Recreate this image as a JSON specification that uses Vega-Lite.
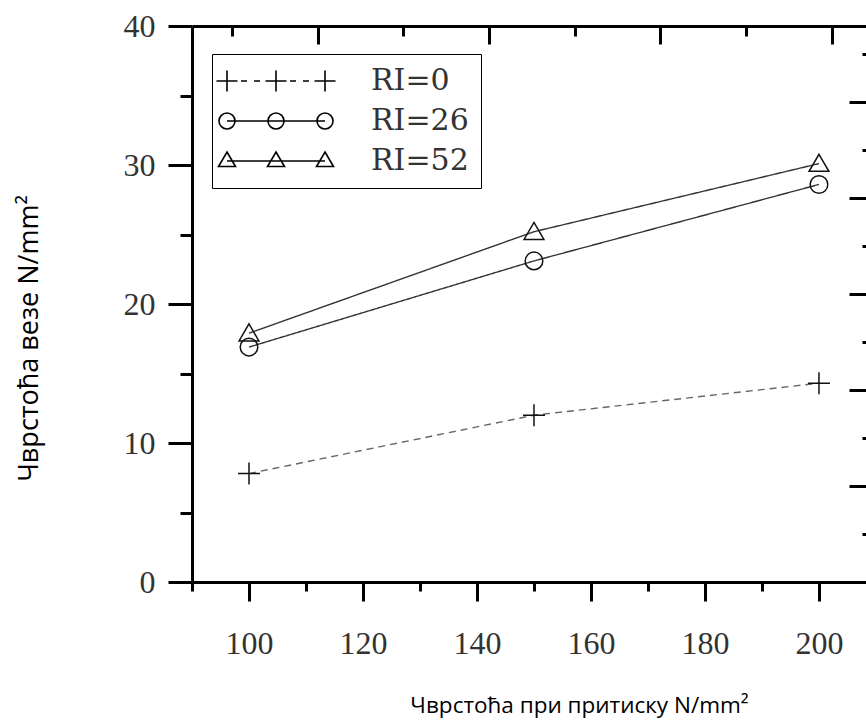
{
  "$schema": "https://vega.github.io/schema/vega-lite/v6.json",
  "width": 674,
  "height": 556,
  "autosize": "none",
  "padding": {"left": 192, "top": 26, "right": 0, "bottom": 138},
  "background": "white",
  "config": {
    "font": "Liberation Serif",
    "view": {"stroke": null},
    "legend": {"labelFont": "DejaVu Serif", "labelFontSize": 30, "labelColor": "#333"}
  },
  "datasets": {
    "main": [
      {"x": 100, "y": 7.8, "s": "RI=0"},
      {"x": 150, "y": 12.0, "s": "RI=0"},
      {"x": 200, "y": 14.3, "s": "RI=0"},
      {"x": 100, "y": 16.9, "s": "RI=26"},
      {"x": 150, "y": 23.1, "s": "RI=26"},
      {"x": 200, "y": 28.6, "s": "RI=26"},
      {"x": 100, "y": 17.9, "s": "RI=52"},
      {"x": 150, "y": 25.2, "s": "RI=52"},
      {"x": 200, "y": 30.1, "s": "RI=52"}
    ],
    "frame": [{"t": 0, "r": 0}]
  },
  "layer": [
    {
      "data": {"name": "main"},
      "mark": {"type": "line", "strokeWidth": 1.4},
      "encoding": {
        "x": {
          "field": "x", "type": "quantitative",
          "scale": {"domain": [90, 208.25], "nice": false, "zero": false},
          "axis": {
            "orient": "bottom",
            "values": [90, 100, 110, 120, 130, 140, 150, 160, 170, 180, 190, 200],
            "title": "Чврстоћа при притиску N/mm²",
            "grid": false,
            "domainColor": "black", "domainWidth": 3,
            "tickColor": "black", "tickWidth": 3,
            "tickSize": {"condition": {"test": "datum.value % 20 === 0", "value": 19}, "value": 9},
            "labelExpr": "datum.value % 20 === 0 ? datum.label : ''",
            "labelFont": "Liberation Serif", "labelFontSize": 32, "labelColor": "#333",
            "labelPadding": 27, "labelFlush": false, "labelOverlap": false,
            "titleFont": "Open Sans", "titleFontSize": 22.5, "titleFontWeight": "normal", "titleColor": "black",
            "titleX": 387, "titleY": 130, "titleAlign": "center", "titleBaseline": "alphabetic"
          }
        },
        "y": {
          "field": "y", "type": "quantitative",
          "scale": {"domain": [0, 40], "nice": false, "zero": false},
          "axis": {
            "orient": "left",
            "values": [0, 5, 10, 15, 20, 25, 30, 35, 40],
            "title": "Чврстоћа везе N/mm²",
            "grid": false,
            "domainColor": "black", "domainWidth": 3,
            "tickColor": "black", "tickWidth": 3,
            "tickSize": {"condition": {"test": "datum.value % 10 === 0", "value": 24}, "value": 12},
            "labelExpr": "datum.value % 10 === 0 ? datum.label : ''",
            "labelFont": "Liberation Serif", "labelFontSize": 32, "labelColor": "#333",
            "labelPadding": 13, "labelFlush": false, "labelOverlap": false,
            "titleFont": "Open Sans", "titleFontSize": 27, "titleFontWeight": "normal", "titleColor": "black",
            "titleAngle": -90, "titleX": -155, "titleY": 312, "titleAlign": "center", "titleBaseline": "alphabetic"
          }
        },
        "detail": {"field": "s"},
        "strokeDash": {
          "field": "s", "type": "nominal",
          "scale": {"domain": ["RI=0", "RI=26", "RI=52"], "range": [[7, 5], [1, 0], [1, 0]]},
          "legend": null
        },
        "color": {
          "field": "s", "type": "nominal",
          "scale": {"domain": ["RI=0", "RI=26", "RI=52"], "range": ["#666666", "#333333", "#333333"]},
          "legend": null
        }
      }
    },
    {
      "data": {"name": "main"},
      "mark": {"type": "point", "filled": false, "opacity": 1, "color": "#111111", "strokeWidth": 1.5, "size": 484},
      "encoding": {
        "x": {"field": "x", "type": "quantitative", "scale": {"domain": [90, 208.25], "nice": false, "zero": false}, "axis": null},
        "y": {"field": "y", "type": "quantitative", "scale": {"domain": [0, 40], "nice": false, "zero": false}, "axis": null},
        "shape": {
          "field": "s", "type": "nominal",
          "scale": {
            "domain": ["RI=0", "RI=26", "RI=52"],
            "range": [
              "M-1,0H1M0,-1V1",
              "M0.8,0A0.8,0.8 0 1,1 -0.8,0A0.8,0.8 0 1,1 0.8,0",
              "M0,-0.85L0.9,0.7L-0.9,0.7Z"
            ]
          },
          "legend": null
        }
      }
    },
    {
      "data": {"name": "main"},
      "mark": {"type": "point", "filled": false, "opacity": 1, "color": "black", "strokeWidth": 1.6, "size": 400, "clip": true},
      "encoding": {
        "x": {"field": "x", "type": "quantitative", "scale": {"domain": [90, 208.25], "nice": false, "zero": false}, "axis": null},
        "y": {"datum": -20, "type": "quantitative", "scale": {"domain": [0, 40], "nice": false, "zero": false}, "axis": null},
        "shape": {
          "field": "s", "type": "nominal",
          "scale": {
            "domain": ["RI=0", "RI=26", "RI=52"],
            "range": [
              "M-2.25,0H-0.15M-1.2,-1.05V1.05M0.2,0H0.8M1.5,0H2.1M2.65,0H4.75M3.7,-1.05V1.05M5.1,0H5.7M6.4,0H7.0M7.55,0H9.65M8.6,-1.05V1.05",
              "M-1.2,0H8.6M-0.4,0A0.8,0.8 0 1,1 -2.0,0A0.8,0.8 0 1,1 -0.4,0M4.5,0A0.8,0.8 0 1,1 2.9,0A0.8,0.8 0 1,1 4.5,0M9.4,0A0.8,0.8 0 1,1 7.8,0A0.8,0.8 0 1,1 9.4,0",
              "M-1.2,0H8.6M-1.2,-0.9L-0.35,0.55L-2.05,0.55ZM3.7,-0.9L4.55,0.55L2.85,0.55ZM8.6,-0.9L9.45,0.55L7.75,0.55Z"
            ]
          },
          "legend": {
            "title": null,
            "orient": "none",
            "legendX": 20,
            "legendY": 28,
            "padding": 12,
            "rowPadding": 10,
            "strokeColor": "black",
            "fillColor": "white",
            "symbolSize": 400,
            "symbolStrokeWidth": 1.6,
            "symbolStrokeColor": "black",
            "symbolFillColor": "transparent",
            "labelFont": "DejaVu Serif",
            "labelFontSize": 30,
            "labelColor": "#333",
            "labelOffset": 117,
            "labelBaseline": "middle",
            "labelLimit": 300
          }
        }
      }
    },
    {
      "data": {"name": "frame"},
      "mark": {"type": "point", "opacity": 0},
      "encoding": {
        "x": {
          "field": "t", "type": "quantitative",
          "scale": {"domain": [-0.4667, 7.398], "nice": false, "zero": false},
          "axis": {
            "orient": "top", "values": [0, 1, 2, 3, 4, 5, 6, 7], "labels": false, "title": null, "grid": false,
            "domain": true, "domainColor": "black", "domainWidth": 3,
            "tickColor": "black", "tickWidth": 3,
            "tickSize": {"condition": {"test": "datum.value % 2 === 1", "value": -18}, "value": -10}
          }
        },
        "y": {
          "field": "r", "type": "quantitative",
          "scale": {"domain": [0, 11.583], "nice": false, "zero": false},
          "axis": {
            "orient": "right", "values": [0, 1, 2, 3, 4, 5, 6, 7, 8, 9, 10, 11], "labels": false, "title": null, "grid": false,
            "domain": false,
            "tickColor": "black", "tickWidth": 3,
            "tickSize": {"condition": {"test": "datum.value % 2 === 0", "value": -17}, "value": -4}
          }
        }
      }
    }
  ],
  "resolve": {"scale": {"x": "independent", "y": "independent", "shape": "independent"}}
}
